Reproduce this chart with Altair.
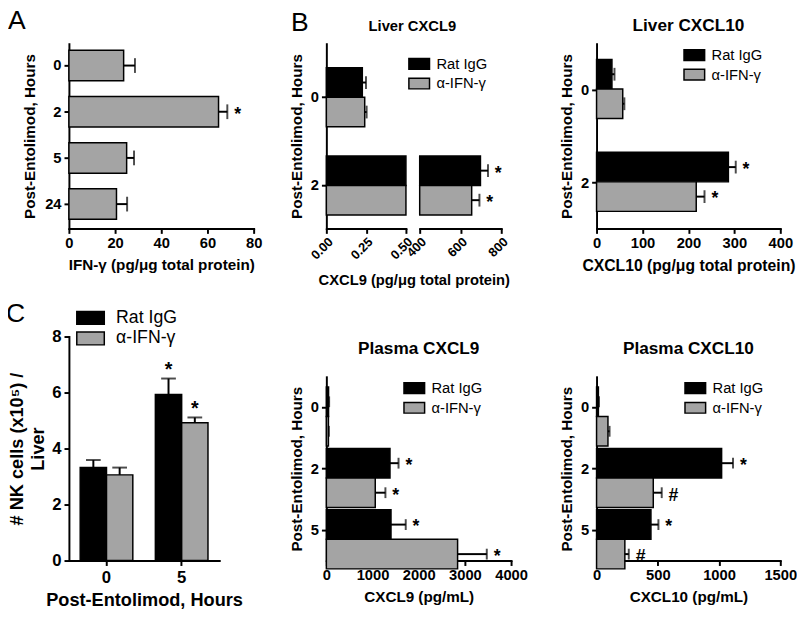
import altair as alt
import pandas as pd

FONT = "Liberation Sans"
GREY = "#a4a4a4"
GROUPS = ["Rat IgG", "α-IFN-γ"]
RECT = "M-1,-0.52L1,-0.52L1,0.52L-1,0.52Z"
RECT_C = "M-1.4,-0.65L1.4,-0.65L1.4,0.65L-1.4,0.65Z"

# ---- Panel A : liver IFN-gamma
a_hours = ["0", "2", "5", "24"]
a_mean = [23.7, 64.8, 25.0, 20.6]
a_err = [4.9, 3.8, 3.2, 4.6]
a_mark = ["", "*", "", ""]

# ---- Panel B : liver CXCL9 (broken axis)
b9_hours = ["0", "2"]
b9_rat = [0.226, 698]
b9_rat_err = [0.023, 37]
b9_anti = [0.241, 655]
b9_anti_err = [0.012, 38]
b9_rat_mark = ["", "*"]
b9_anti_mark = ["", "*"]

# ---- Liver CXCL10
b10_hours = ["0", "2"]
b10_rat = [33.5, 287]
b10_rat_err = [5.5, 16]
b10_anti = [57, 217]
b10_anti_err = [3.5, 18]
b10_rat_mark = ["", "*"]
b10_anti_mark = ["", "*"]

# ---- Panel C : NK cells
c_hours = ["0", "5"]
c_rat = [3.32, 5.93]
c_rat_err = [0.27, 0.57]
c_anti = [3.06, 4.92]
c_anti_err = [0.26, 0.19]
c_rat_mark = ["", "*"]
c_anti_mark = ["", "*"]

# ---- Plasma CXCL9
p9_hours = ["0", "2", "5"]
p9_rat = [48, 1378, 1400]
p9_rat_err = [12, 185, 319]
p9_anti = [45, 1059, 2842]
p9_anti_err = [10, 220, 632]
p9_rat_mark = ["", "*", "*"]
p9_anti_mark = ["", "*", "*"]

# ---- Plasma CXCL10
p10_hours = ["0", "2", "5"]
p10_rat = [15, 1021, 444]
p10_rat_err = [5, 93, 61]
p10_anti = [93, 463, 231]
p10_anti_err = [13, 69, 32]
p10_rat_mark = ["", "*", "*"]
p10_anti_mark = ["", "#", "#"]


def grouped(hours, rat, rat_err, anti, anti_err, rat_mark, anti_mark):
    rows = []
    for i, h in enumerate(hours):
        rows.append(dict(hour=h, group=GROUPS[0], mean=rat[i], hi=rat[i] + rat_err[i], mark=rat_mark[i]))
        rows.append(dict(hour=h, group=GROUPS[1], mean=anti[i], hi=anti[i] + anti_err[i], mark=anti_mark[i]))
    return pd.DataFrame(rows)


cscale = alt.Scale(domain=GROUPS, range=["black", GREY])


def legend(x, y, size=441, path=RECT, fs=15, row=0, off=6):
    return alt.Legend(title=None, orient="none", legendX=x, legendY=y, symbolType=path,
                      symbolSize=size, symbolStrokeColor="black", symbolStrokeWidth=1.5,
                      symbolOpacity=1, labelFont=FONT, labelFontSize=fs, labelColor="black",
                      labelFontWeight="normal", labelOffset=off, rowPadding=row, padding=0)


def ttl(text, fs, dy, dx=0):
    return alt.TitleParams(text, fontSize=fs, offset=0, dy=dy, dx=dx, frame="group",
                           baseline="alphabetic", anchor="middle")


YTITLE = "Post-Entolimod, Hours"


def hgroup(df, hours, xdomain, xticks, xtitle, title, leg, width, height,
           pi, po, al, yrange=None, cap=13, tfs=15.5):
    ysc = dict(domain=hours, paddingInner=pi, paddingOuter=po, align=al)
    if yrange is not None:
        ysc["range"] = yrange
    Y = alt.Y("hour:N", sort=hours, scale=alt.Scale(**ysc),
              axis=alt.Axis(title=YTITLE, titlePadding=6, labelPadding=3))
    YO = alt.YOffset("group:N", sort=GROUPS, scale=alt.Scale(domain=GROUPS))
    base = alt.Chart(df).encode(y=Y, yOffset=YO)
    X = alt.X("mean:Q", scale=alt.Scale(domain=xdomain, nice=False),
              axis=alt.Axis(values=xticks, format="d", title=xtitle, titleFontSize=tfs,
                            titlePadding=8))
    bars = base.mark_bar(stroke="black", strokeWidth=1.5).encode(
        x=X, color=alt.Color("group:N", scale=cscale, legend=leg))
    rule = base.mark_rule(color="black", strokeWidth=2).encode(x="mean:Q", x2="hi:Q")
    tick = base.mark_tick(color="black", thickness=2, size=cap).encode(x="hi:Q")
    txt = base.mark_text(align="left", baseline="middle", dx=7, dy=3, font=FONT, fontSize=18,
                         fontWeight="bold", color="black").encode(x="hi:Q", text="mark:N")
    return alt.layer(bars, rule, tick, txt).properties(width=width, height=height, title=title)


# ---------------- Panel A
dfA = pd.DataFrame({"hour": a_hours, "mean": a_mean, "err": a_err, "mark": a_mark})
dfA["hi"] = dfA["mean"] + dfA["err"]
YA = alt.Y("hour:N", sort=a_hours,
           scale=alt.Scale(domain=a_hours, paddingInner=0.34, paddingOuter=0.17, align=0.42),
           axis=alt.Axis(title=YTITLE, titlePadding=7, labelPadding=3))
baseA = alt.Chart(dfA).encode(y=YA)
barsA = baseA.mark_bar(color=GREY, stroke="black", strokeWidth=1.5).encode(
    x=alt.X("mean:Q", scale=alt.Scale(domain=[0, 80], nice=False),
            axis=alt.Axis(values=[0, 20, 40, 60, 80], title="IFN-γ (pg/μg total protein)",
                          titlePadding=8)))
ruleA = baseA.mark_rule(color="black", strokeWidth=2).encode(x="mean:Q", x2="hi:Q")
tickA = baseA.mark_tick(color="black", thickness=2, size=15).encode(x="hi:Q")
txtA = baseA.mark_text(align="left", baseline="middle", dx=7, dy=3, font=FONT, fontSize=18,
                       fontWeight="bold", color="black").encode(x="hi:Q", text="mark:N")
chartA = alt.layer(barsA, ruleA, tickA, txtA).properties(
    width=188, height=188,
    title=alt.TitleParams("A", anchor="start", frame="group", fontSize=27, fontWeight="normal",
                          font=FONT, dx=-62, offset=13, dy=25, baseline="alphabetic",
                          color="black"))

# ---------------- Panel B (broken x axis)
dfB = grouped(b9_hours, b9_rat, b9_rat_err, b9_anti, b9_anti_err, b9_rat_mark, b9_anti_mark)
YB = alt.Y("hour:N", sort=b9_hours,
           scale=alt.Scale(domain=b9_hours, paddingInner=0.33, paddingOuter=0.213, align=0.64),
           axis=alt.Axis(title=YTITLE, titlePadding=6, labelPadding=3))
YOB = alt.YOffset("group:N", sort=GROUPS, scale=alt.Scale(domain=GROUPS))
XL = alt.X("mean:Q", scale=alt.Scale(domain=[0, 0.5], range=[0, 81], clamp=True, nice=False),
           axis=alt.Axis(values=[0, 0.25, 0.5], format=".2f", labelAngle=315, orient="bottom",
                         labelFontSize=13, title="CXCL9 (pg/μg total protein)", titleX=89,
                         titlePadding=11, titleFontSize=15))
XR = alt.X("mean:Q", scale=alt.Scale(domain=[400, 800], range=[95, 178], clamp=True, nice=False),
           axis=alt.Axis(values=[400, 600, 800], labelAngle=315, orient="bottom",
                         labelFontSize=13, title=None))
XLh = alt.X("hi:Q", scale=alt.Scale(domain=[0, 0.5], range=[0, 81], clamp=True, nice=False))
XRh = alt.X("hi:Q", scale=alt.Scale(domain=[400, 800], range=[95, 178], clamp=True, nice=False))
leftB = alt.Chart(dfB).encode(y=YB, yOffset=YOB)
leftLow = leftB.transform_filter("datum.hi <= 0.5")
rightB = alt.Chart(dfB).transform_filter("datum.mean >= 400").encode(y=YB, yOffset=YOB)
colB = alt.Color("group:N", scale=cscale, legend=legend(83, 9))
layerL = alt.layer(
    leftB.mark_bar(stroke="black", strokeWidth=1.5).encode(x=XL, color=colB),
    leftLow.mark_rule(color="black", strokeWidth=2).encode(x=XL, x2="hi:Q"),
    leftLow.mark_tick(color="black", thickness=2, size=13).encode(x=XLh),
)
layerR = alt.layer(
    rightB.mark_bar(stroke="black", strokeWidth=1.5).encode(x=XR, color=colB),
    rightB.mark_rule(color="black", strokeWidth=2).encode(x=XR, x2="hi:Q"),
    rightB.mark_tick(color="black", thickness=2, size=13).encode(x=XRh),
    rightB.mark_text(align="left", baseline="middle", dx=7, dy=3, font=FONT, fontSize=18,
                     fontWeight="bold", color="black").encode(x=XRh, text="mark:N"),
)
letterB = alt.Chart(pd.DataFrame({"t": ["B"]})).mark_text(
    font=FONT, fontSize=27, align="left", baseline="alphabetic", color="black").encode(
    text="t:N", x=alt.value(-36), y=alt.value(-13))
chartB = alt.layer(layerL, layerR, letterB).resolve_scale(x="independent").properties(
    width=201, height=188, title=ttl("Liver CXCL9", 15, 37, dx=-13))

# ---------------- Liver CXCL10
dfB10 = grouped(b10_hours, b10_rat, b10_rat_err, b10_anti, b10_anti_err, b10_rat_mark, b10_anti_mark)
chartB10 = hgroup(dfB10, b10_hours, [0, 400], [0, 100, 200, 300, 400],
                  "CXCL10 (pg/μg total protein)", ttl("Liver CXCL10", 17.5, 5),
                  legend(88, 0), 187, 188, 0.337, 0.163, 0.52, cap=13, tfs=16)

# ---------------- Panel C
dfC = grouped(c_hours, c_rat, c_rat_err, c_anti, c_anti_err, c_rat_mark, c_anti_mark)
XC = alt.X("hour:N", sort=c_hours,
           scale=alt.Scale(domain=c_hours, paddingInner=0.3, paddingOuter=0.15),
           axis=alt.Axis(title=YTITLE, labelAngle=0, labelFontSize=17, titleFontSize=18.5,
                         titlePadding=6, labelPadding=4))
XOC = alt.XOffset("group:N", sort=GROUPS, scale=alt.Scale(domain=GROUPS))
baseC = alt.Chart(dfC).encode(x=XC, xOffset=XOC)
barsC = baseC.mark_bar(stroke="black", strokeWidth=1.5).encode(
    y=alt.Y("mean:Q", scale=alt.Scale(domain=[0, 8], nice=False),
            axis=alt.Axis(values=[0, 2, 4, 6, 8], title=["# NK cells (x10⁵) /", "Liver"],
                          labelFontSize=17, titleFontSize=18.5, titleLineHeight=22,
                          titlePadding=4, labelPadding=3)),
    color=alt.Color("group:N", scale=cscale,
                    legend=legend(11, -30, size=400, path=RECT_C, fs=18, row=-1.5, off=15)))
ruleC = baseC.mark_rule(color="black", strokeWidth=2).encode(y="mean:Q", y2="hi:Q")
tickC = baseC.mark_tick(color="black", thickness=2, size=15).encode(y="hi:Q")
txtC = baseC.mark_text(align="center", baseline="alphabetic", dy=-3, font=FONT, fontSize=20,
                       fontWeight="bold", color="black").encode(y="hi:Q", text="mark:N")
chartC = alt.layer(barsC, ruleC, tickC, txtC).properties(
    width=153, height=228,
    title=alt.TitleParams("C", anchor="start", frame="group", fontSize=27, fontWeight="normal",
                          font=FONT, dx=-64, offset=7, dy=49, baseline="alphabetic",
                          color="black"))

# ---------------- Plasma CXCL9 / CXCL10
dfP9 = grouped(p9_hours, p9_rat, p9_rat_err, p9_anti, p9_anti_err, p9_rat_mark, p9_anti_mark)
chartP9 = hgroup(dfP9, p9_hours, [0, 4000], [0, 1000, 2000, 3000, 4000], "CXCL9 (pg/mL)",
                 ttl("Plasma CXCL9", 17.5, 35),
                 legend(78, 41), 188, 228, 0.34, 0.166, 0.5, yrange=[41, 228], cap=11)
dfP10 = grouped(p10_hours, p10_rat, p10_rat_err, p10_anti, p10_anti_err, p10_rat_mark, p10_anti_mark)
chartP10 = hgroup(dfP10, p10_hours, [0, 1500], [0, 500, 1000, 1500], "CXCL10 (pg/mL)",
                  ttl("Plasma CXCL10", 17.5, 35),
                  legend(89, 41), 187, 228, 0.34, 0.166, 0.5, yrange=[41, 228], cap=11)

chart = alt.concat(chartA, chartB, chartB10, chartC, chartP9, chartP10, columns=3,
                   spacing={"row": 110, "column": 74}, bounds="flush").resolve_scale(
    color="independent").resolve_legend(color="independent").properties(
    padding={"left": -2, "top": -6, "right": 0, "bottom": -3}
).configure_view(stroke=None).configure_axis(
    domainColor="black", domainWidth=2, tickColor="black", tickWidth=2, tickSize=5,
    labelFont=FONT, labelFontWeight="bold", labelFontSize=15, labelColor="black",
    titleFont=FONT, titleFontWeight="bold", titleFontSize=15.5, titleColor="black",
    grid=False, labelFlush=False, labelOverlap=False, domainCap="square"
).configure_title(font=FONT, fontWeight="bold", color="black", anchor="middle")

chart.save("out.html", embed_options={"renderer": "svg", "actions": False})
